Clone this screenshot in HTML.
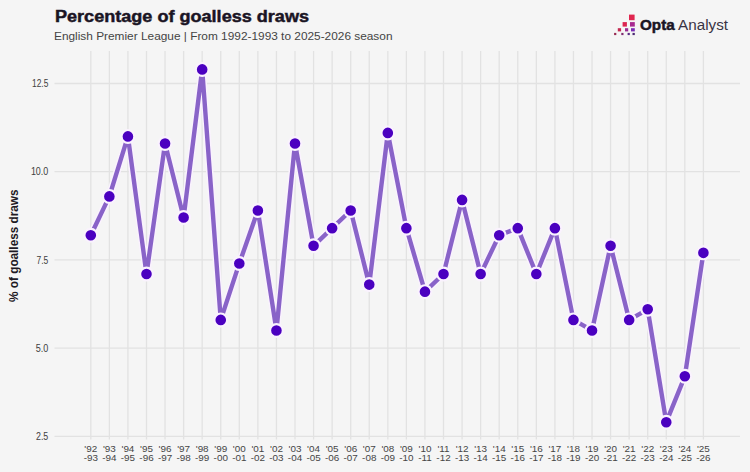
<!DOCTYPE html>
<html><head><meta charset="utf-8"><style>
html,body{margin:0;padding:0;background:#f5f5f5;}
body{width:750px;height:472px;overflow:hidden;position:relative;font-family:"Liberation Sans",sans-serif;}
svg{position:absolute;left:0;top:0;}
svg text{font-family:"Liberation Sans",sans-serif;}
</style></head><body>
<svg width="750" height="472" viewBox="0 0 750 472">
<rect x="0" y="0" width="750" height="472" fill="#f5f5f5"/>
<g stroke="#e2e2e2" stroke-width="1.3"><line x1="90.80" y1="51" x2="90.80" y2="439.5"/><line x1="109.36" y1="51" x2="109.36" y2="439.5"/><line x1="127.93" y1="51" x2="127.93" y2="439.5"/><line x1="146.49" y1="51" x2="146.49" y2="439.5"/><line x1="165.05" y1="51" x2="165.05" y2="439.5"/><line x1="183.62" y1="51" x2="183.62" y2="439.5"/><line x1="202.18" y1="51" x2="202.18" y2="439.5"/><line x1="220.75" y1="51" x2="220.75" y2="439.5"/><line x1="239.31" y1="51" x2="239.31" y2="439.5"/><line x1="257.87" y1="51" x2="257.87" y2="439.5"/><line x1="276.44" y1="51" x2="276.44" y2="439.5"/><line x1="295.00" y1="51" x2="295.00" y2="439.5"/><line x1="313.56" y1="51" x2="313.56" y2="439.5"/><line x1="332.13" y1="51" x2="332.13" y2="439.5"/><line x1="350.69" y1="51" x2="350.69" y2="439.5"/><line x1="369.25" y1="51" x2="369.25" y2="439.5"/><line x1="387.82" y1="51" x2="387.82" y2="439.5"/><line x1="406.38" y1="51" x2="406.38" y2="439.5"/><line x1="424.95" y1="51" x2="424.95" y2="439.5"/><line x1="443.51" y1="51" x2="443.51" y2="439.5"/><line x1="462.07" y1="51" x2="462.07" y2="439.5"/><line x1="480.64" y1="51" x2="480.64" y2="439.5"/><line x1="499.20" y1="51" x2="499.20" y2="439.5"/><line x1="517.76" y1="51" x2="517.76" y2="439.5"/><line x1="536.33" y1="51" x2="536.33" y2="439.5"/><line x1="554.89" y1="51" x2="554.89" y2="439.5"/><line x1="573.45" y1="51" x2="573.45" y2="439.5"/><line x1="592.02" y1="51" x2="592.02" y2="439.5"/><line x1="610.58" y1="51" x2="610.58" y2="439.5"/><line x1="629.15" y1="51" x2="629.15" y2="439.5"/><line x1="647.71" y1="51" x2="647.71" y2="439.5"/><line x1="666.27" y1="51" x2="666.27" y2="439.5"/><line x1="684.84" y1="51" x2="684.84" y2="439.5"/><line x1="703.40" y1="51" x2="703.40" y2="439.5"/><line x1="54.5" y1="83.50" x2="740" y2="83.50"/><line x1="54.5" y1="171.70" x2="740" y2="171.70"/><line x1="54.5" y1="259.90" x2="740" y2="259.90"/><line x1="54.5" y1="348.10" x2="740" y2="348.10"/><line x1="54.5" y1="436.30" x2="740" y2="436.30"/></g>
<g font-size="10.2" fill="#404040"><text x="32.00" y="87.10" textLength="16.3" lengthAdjust="spacingAndGlyphs">12.5</text><text x="30.90" y="175.30" textLength="17.4" lengthAdjust="spacingAndGlyphs">10.0</text><text x="36.50" y="263.50" textLength="11.8" lengthAdjust="spacingAndGlyphs">7.5</text><text x="35.70" y="351.70" textLength="12.6" lengthAdjust="spacingAndGlyphs">5.0</text><text x="36.00" y="439.90" textLength="12.3" lengthAdjust="spacingAndGlyphs">2.5</text></g>
<g font-size="9.9" fill="#454545"><text transform="translate(90.80,451.9)" text-anchor="middle">'92</text><text transform="translate(90.80,460.8)" text-anchor="middle">-93</text><text transform="translate(109.36,451.9)" text-anchor="middle">'93</text><text transform="translate(109.36,460.8)" text-anchor="middle">-94</text><text transform="translate(127.93,451.9)" text-anchor="middle">'94</text><text transform="translate(127.93,460.8)" text-anchor="middle">-95</text><text transform="translate(146.49,451.9)" text-anchor="middle">'95</text><text transform="translate(146.49,460.8)" text-anchor="middle">-96</text><text transform="translate(165.05,451.9)" text-anchor="middle">'96</text><text transform="translate(165.05,460.8)" text-anchor="middle">-97</text><text transform="translate(183.62,451.9)" text-anchor="middle">'97</text><text transform="translate(183.62,460.8)" text-anchor="middle">-98</text><text transform="translate(202.18,451.9)" text-anchor="middle">'98</text><text transform="translate(202.18,460.8)" text-anchor="middle">-99</text><text transform="translate(220.75,451.9)" text-anchor="middle">'99</text><text transform="translate(220.75,460.8)" text-anchor="middle">-00</text><text transform="translate(239.31,451.9)" text-anchor="middle">'00</text><text transform="translate(239.31,460.8)" text-anchor="middle">-01</text><text transform="translate(257.87,451.9)" text-anchor="middle">'01</text><text transform="translate(257.87,460.8)" text-anchor="middle">-02</text><text transform="translate(276.44,451.9)" text-anchor="middle">'02</text><text transform="translate(276.44,460.8)" text-anchor="middle">-03</text><text transform="translate(295.00,451.9)" text-anchor="middle">'03</text><text transform="translate(295.00,460.8)" text-anchor="middle">-04</text><text transform="translate(313.56,451.9)" text-anchor="middle">'04</text><text transform="translate(313.56,460.8)" text-anchor="middle">-05</text><text transform="translate(332.13,451.9)" text-anchor="middle">'05</text><text transform="translate(332.13,460.8)" text-anchor="middle">-06</text><text transform="translate(350.69,451.9)" text-anchor="middle">'06</text><text transform="translate(350.69,460.8)" text-anchor="middle">-07</text><text transform="translate(369.25,451.9)" text-anchor="middle">'07</text><text transform="translate(369.25,460.8)" text-anchor="middle">-08</text><text transform="translate(387.82,451.9)" text-anchor="middle">'08</text><text transform="translate(387.82,460.8)" text-anchor="middle">-09</text><text transform="translate(406.38,451.9)" text-anchor="middle">'09</text><text transform="translate(406.38,460.8)" text-anchor="middle">-10</text><text transform="translate(424.95,451.9)" text-anchor="middle">'10</text><text transform="translate(424.95,460.8)" text-anchor="middle">-11</text><text transform="translate(443.51,451.9)" text-anchor="middle">'11</text><text transform="translate(443.51,460.8)" text-anchor="middle">-12</text><text transform="translate(462.07,451.9)" text-anchor="middle">'12</text><text transform="translate(462.07,460.8)" text-anchor="middle">-13</text><text transform="translate(480.64,451.9)" text-anchor="middle">'13</text><text transform="translate(480.64,460.8)" text-anchor="middle">-14</text><text transform="translate(499.20,451.9)" text-anchor="middle">'14</text><text transform="translate(499.20,460.8)" text-anchor="middle">-15</text><text transform="translate(517.76,451.9)" text-anchor="middle">'15</text><text transform="translate(517.76,460.8)" text-anchor="middle">-16</text><text transform="translate(536.33,451.9)" text-anchor="middle">'16</text><text transform="translate(536.33,460.8)" text-anchor="middle">-17</text><text transform="translate(554.89,451.9)" text-anchor="middle">'17</text><text transform="translate(554.89,460.8)" text-anchor="middle">-18</text><text transform="translate(573.45,451.9)" text-anchor="middle">'18</text><text transform="translate(573.45,460.8)" text-anchor="middle">-19</text><text transform="translate(592.02,451.9)" text-anchor="middle">'19</text><text transform="translate(592.02,460.8)" text-anchor="middle">-20</text><text transform="translate(610.58,451.9)" text-anchor="middle">'20</text><text transform="translate(610.58,460.8)" text-anchor="middle">-21</text><text transform="translate(629.15,451.9)" text-anchor="middle">'21</text><text transform="translate(629.15,460.8)" text-anchor="middle">-22</text><text transform="translate(647.71,451.9)" text-anchor="middle">'22</text><text transform="translate(647.71,460.8)" text-anchor="middle">-23</text><text transform="translate(666.27,451.9)" text-anchor="middle">'23</text><text transform="translate(666.27,460.8)" text-anchor="middle">-24</text><text transform="translate(684.84,451.9)" text-anchor="middle">'24</text><text transform="translate(684.84,460.8)" text-anchor="middle">-25</text><text transform="translate(703.40,451.9)" text-anchor="middle">'25</text><text transform="translate(703.40,460.8)" text-anchor="middle">-26</text></g>
<text transform="translate(18.4,245.7) rotate(-90)" text-anchor="middle" font-weight="bold" font-size="12" fill="#1e1a24" textLength="112.4" lengthAdjust="spacingAndGlyphs">% of goalless draws</text>
<path d="M90.80,235.20 L109.36,196.40 L127.93,136.42 L146.49,274.01 L165.05,143.48 L183.62,217.56 L202.18,69.39 L220.75,319.88 L239.31,263.43 L257.87,210.51 L276.44,330.46 L295.00,143.48 L313.56,245.79 L332.13,228.15 L350.69,210.51 L369.25,284.60 L387.82,132.89 L406.38,228.15 L424.95,291.65 L443.51,274.01 L462.07,199.92 L480.64,274.01 L499.20,235.20 L517.76,228.15 L536.33,274.01 L554.89,228.15 L573.45,319.88 L592.02,330.46 L610.58,245.79 L629.15,319.88 L647.71,309.29 L666.27,422.19 L684.84,376.32 L703.40,252.84" fill="none" stroke="#faf2fe" stroke-width="7.4" stroke-linejoin="round"/>
<path d="M90.80,235.20 L109.36,196.40 L127.93,136.42 L146.49,274.01 L165.05,143.48 L183.62,217.56 L202.18,69.39 L220.75,319.88 L239.31,263.43 L257.87,210.51 L276.44,330.46 L295.00,143.48 L313.56,245.79 L332.13,228.15 L350.69,210.51 L369.25,284.60 L387.82,132.89 L406.38,228.15 L424.95,291.65 L443.51,274.01 L462.07,199.92 L480.64,274.01 L499.20,235.20 L517.76,228.15 L536.33,274.01 L554.89,228.15 L573.45,319.88 L592.02,330.46 L610.58,245.79 L629.15,319.88 L647.71,309.29 L666.27,422.19 L684.84,376.32 L703.40,252.84" fill="none" stroke="#8963c8" stroke-width="4.4" stroke-linejoin="round"/>
<g fill="#4b00c0" stroke="#faf2fe" stroke-width="2.2"><circle cx="90.80" cy="235.20" r="6.4"/><circle cx="109.36" cy="196.40" r="6.4"/><circle cx="127.93" cy="136.42" r="6.4"/><circle cx="146.49" cy="274.01" r="6.4"/><circle cx="165.05" cy="143.48" r="6.4"/><circle cx="183.62" cy="217.56" r="6.4"/><circle cx="202.18" cy="69.39" r="6.4"/><circle cx="220.75" cy="319.88" r="6.4"/><circle cx="239.31" cy="263.43" r="6.4"/><circle cx="257.87" cy="210.51" r="6.4"/><circle cx="276.44" cy="330.46" r="6.4"/><circle cx="295.00" cy="143.48" r="6.4"/><circle cx="313.56" cy="245.79" r="6.4"/><circle cx="332.13" cy="228.15" r="6.4"/><circle cx="350.69" cy="210.51" r="6.4"/><circle cx="369.25" cy="284.60" r="6.4"/><circle cx="387.82" cy="132.89" r="6.4"/><circle cx="406.38" cy="228.15" r="6.4"/><circle cx="424.95" cy="291.65" r="6.4"/><circle cx="443.51" cy="274.01" r="6.4"/><circle cx="462.07" cy="199.92" r="6.4"/><circle cx="480.64" cy="274.01" r="6.4"/><circle cx="499.20" cy="235.20" r="6.4"/><circle cx="517.76" cy="228.15" r="6.4"/><circle cx="536.33" cy="274.01" r="6.4"/><circle cx="554.89" cy="228.15" r="6.4"/><circle cx="573.45" cy="319.88" r="6.4"/><circle cx="592.02" cy="330.46" r="6.4"/><circle cx="610.58" cy="245.79" r="6.4"/><circle cx="629.15" cy="319.88" r="6.4"/><circle cx="647.71" cy="309.29" r="6.4"/><circle cx="666.27" cy="422.19" r="6.4"/><circle cx="684.84" cy="376.32" r="6.4"/><circle cx="703.40" cy="252.84" r="6.4"/></g>
<text x="55" y="22" font-weight="bold" font-size="16" fill="#1a1424" stroke="#1a1424" stroke-width="0.45" textLength="254" lengthAdjust="spacingAndGlyphs">Percentage of goalless draws</text>
<text x="54" y="40.2" font-size="11" fill="#444444" textLength="338.5" lengthAdjust="spacingAndGlyphs">English Premier League | From 1992-1993 to 2025-2026 season</text>
<rect x="629.0" y="14.6" width="5.6" height="5.6" fill="#e0264f"/><rect x="622.6" y="22.1" width="4.3" height="4.5" fill="#dc2450"/><rect x="630.0" y="22.1" width="4.8" height="4.5" fill="#a82a90"/><rect x="617.8" y="28.2" width="3.3" height="3.2" fill="#c42850"/><rect x="625.0" y="28.2" width="3.2" height="3.2" fill="#9c2a92"/><rect x="631.0" y="28.2" width="3.8" height="3.2" fill="#7a2cb4"/><rect x="614.1" y="32.9" width="2.2" height="2.2" fill="#962a52"/><rect x="621.3" y="32.9" width="2.2" height="2.2" fill="#7e2a6e"/><rect x="627.6" y="32.9" width="2.2" height="2.2" fill="#5a2c82"/><rect x="632.5" y="32.9" width="2.3" height="2.2" fill="#4c2a74"/>
<text x="640" y="30" font-size="15.5" fill="#1a1424" textLength="88" lengthAdjust="spacingAndGlyphs"><tspan font-weight="bold" stroke="#1a1424" stroke-width="0.5">Opta</tspan> <tspan fill="#3a3444">Analyst</tspan></text>
</svg>
</body></html>
